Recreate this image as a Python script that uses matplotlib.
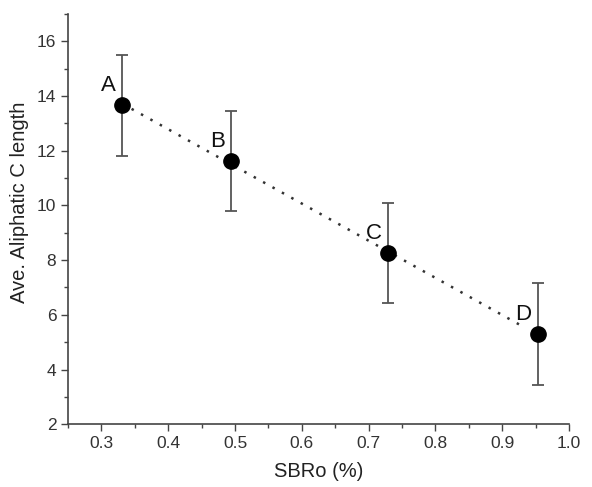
import matplotlib
matplotlib.use("Agg")
import matplotlib.pyplot as plt
import numpy as np
from matplotlib.ticker import MultipleLocator

plt.rcParams['font.family'] = ['Liberation Sans', 'DejaVu Sans']

# data
sbro = [0.331, 0.494, 0.729, 0.953]
c_len = [13.67, 11.62, 8.25, 5.29]
c_err = [1.85, 1.83, 1.83, 1.86]
names = ['A', 'B', 'C', 'D']

fig = plt.figure(figsize=(5.92, 4.87), dpi=100)
ax = fig.add_axes([0.115, 0.129, 0.846, 0.842])

# linear fit (dotted)
k, b = np.polyfit(sbro, c_len, 1)
fx = np.array([min(sbro), max(sbro) - 0.025])
ax.plot(fx, k * fx + b, linestyle=(0, (1, 3.3)), color='#333333', lw=1.8, zorder=1)

ax.errorbar(sbro, c_len, yerr=c_err, fmt='o', color='black', ms=11,
            ecolor='#555555', elinewidth=1.3, capsize=4, capthick=1.3, zorder=3)

for x, y, t in zip(sbro, c_len, names):
    ax.annotate(t, (x, y), xytext=(-10, 14), textcoords='offset points',
                ha='center', va='center', fontsize=16, color='#111111')

ax.set_xlim(0.25, 1.0)
ax.set_ylim(2, 17)
ax.xaxis.set_minor_locator(MultipleLocator(0.05))
ax.yaxis.set_major_locator(MultipleLocator(2))
ax.yaxis.set_minor_locator(MultipleLocator(1))
ax.set_xticks(np.arange(0.3, 1.01, 0.1))
ax.set_xticklabels(['0.3', '0.4', '0.5', '0.6', '0.7', '0.8', '0.9', '1.0'])
ax.tick_params(which='major', length=5, width=1, color='#444444', labelsize=12.5, labelcolor='#333333')
ax.tick_params(which='minor', length=3, width=1, color='#444444')
for s in ['top', 'right']:
    ax.spines[s].set_visible(False)
for s in ['left', 'bottom']:
    ax.spines[s].set_color('#444444')
    ax.spines[s].set_linewidth(1.2)

ax.set_xlabel('SBRo (%)', fontsize=14.5, color='#222222', labelpad=8)
ax.set_ylabel('Ave. Aliphatic C length', fontsize=14.5, color='#222222')
ax.yaxis.set_label_coords(-0.078, 0.54)

fig.savefig('out.png', dpi=100)
